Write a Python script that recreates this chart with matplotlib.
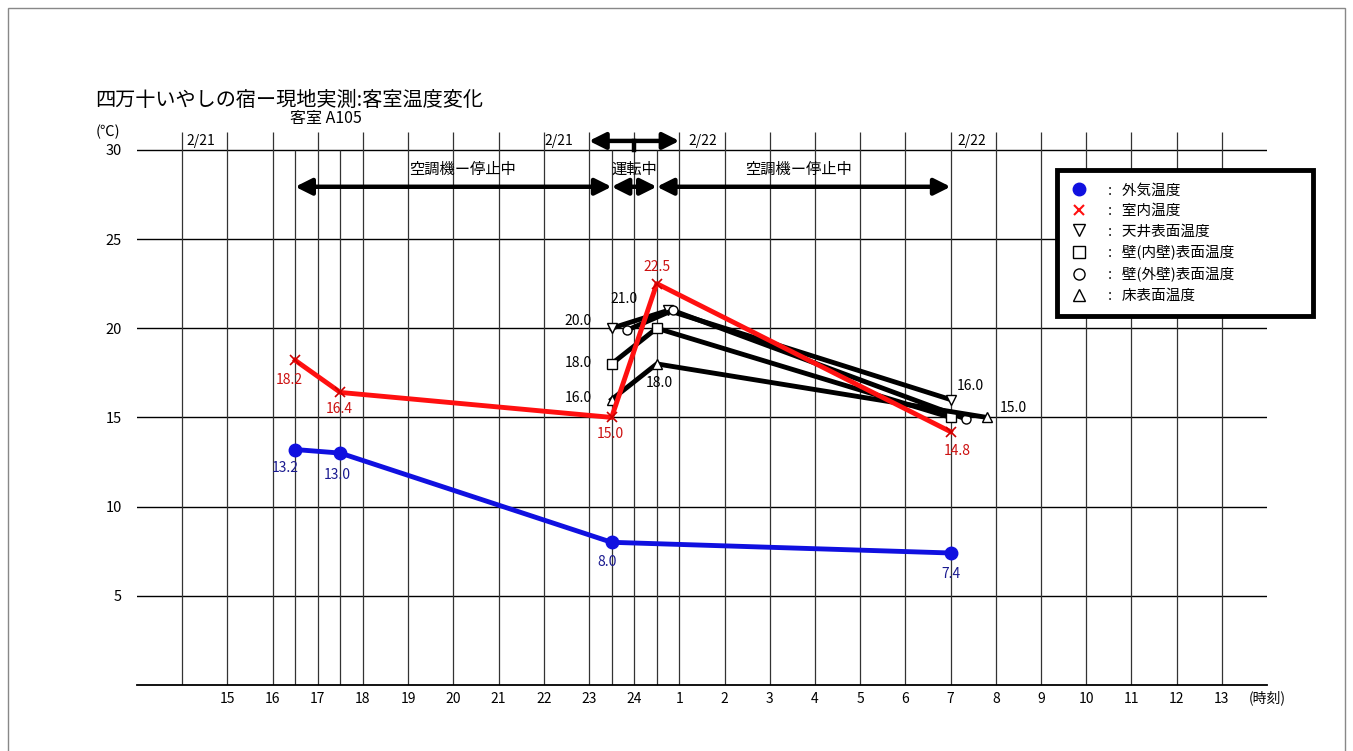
import matplotlib
matplotlib.use('Agg')
import matplotlib.pyplot as plt
from matplotlib.lines import Line2D
from matplotlib.patches import Rectangle

plt.rcParams['font.family'] = ['Noto Sans CJK JP', 'DejaVu Sans']

# time axis: 2/21 14:00 = 14, 2/22 0:00 = 24, 2/22 13:00 = 37
hour_ticks = [15, 16, 17, 18, 19, 20, 21, 22, 23, 24, 25, 26, 27, 28,
              29, 30, 31, 32, 33, 34, 35, 36, 37]
hour_labels = ["15", "16", "17", "18", "19", "20", "21", "22", "23", "24",
               "1", "2", "3", "4", "5", "6", "7", "8", "9", "10", "11",
               "12", "13"]
hour_lines = [14, 15, 16, 17, 18, 19, 20, 21, 22, 23, 24, 25, 26, 27, 28,
              29, 30, 31, 32, 33, 34, 35, 36, 37]
meas_lines = [16.5, 17.5, 23.5, 24.5]
y_ticks = [5, 10, 15, 20, 25, 30]

# outdoor air (外気温度)
out_t = [16.5, 17.5, 23.5, 31.0]
out_v = [13.2, 13.0, 8.0, 7.4]
out_lbl = ["13.2", "13.0", "8.0", "7.4"]

# room air (室内温度)
room_t = [16.5, 17.5, 23.5, 24.5, 31.0]
room_v = [18.2, 16.4, 15.0, 22.5, 14.2]
room_lbl = ["18.2", "16.4", "15.0", "22.5", "14.8"]

# surfaces
ceil_t = [23.5, 24.75, 31.0]
ceil_v = [20.0, 21.0, 16.0]
inwall_t = [23.5, 24.5, 31.0]
inwall_v = [18.0, 20.0, 15.0]
outwall_t = [23.85, 24.85, 31.35]
outwall_v = [19.9, 21.0, 14.9]
floor_t = [23.5, 24.5, 31.8]
floor_v = [16.0, 18.0, 15.0]

fig = plt.figure(figsize=(13.53, 7.51), dpi=100)
ax = fig.add_axes([137 / 1353, 1 - 685 / 751, (1267 - 137) / 1353, (685 - 132) / 751])
ax.set_xlim(13, 38)
ax.set_ylim(0, 31)

# grid
for y in y_ticks:
    ax.plot([13, 38], [y, y], color='black', lw=1.0, zorder=1)
ax.vlines(hour_lines, 0, 31, color='#333333', lw=0.9, zorder=1)
ax.vlines(meas_lines, 0, 30, color='#333333', lw=0.9, zorder=1)

for s in ['left', 'right', 'top']:
    ax.spines[s].set_visible(False)
ax.spines['bottom'].set_linewidth(1.3)

ax.set_xticks(hour_ticks)
ax.set_xticklabels(hour_labels, fontsize=10)
ax.set_yticks(y_ticks)
ax.set_yticklabels([str(v) for v in y_ticks], fontsize=10.5)
ax.tick_params(axis='x', length=0, pad=5)
ax.tick_params(axis='y', length=0, pad=11)

ax.text(-0.015, 1.0, '(℃)', transform=ax.transAxes, ha='right', va='center', fontsize=10.5)
ax.text(1.0, -0.024, '(時刻)', transform=ax.transAxes, ha='center', va='center', fontsize=10)

# surface lines
surf = [(ceil_t, ceil_v, 'v'), (outwall_t, outwall_v, 'o'),
        (inwall_t, inwall_v, 's'), (floor_t, floor_v, '^')]
for t, v, m in surf:
    ax.plot(t, v, color='black', lw=3.5, marker=m, ms=6.5, mfc='white',
            mec='black', mew=1.0, zorder=3)

ax.plot(out_t, out_v, color='#1010e0', lw=3.5, marker='o', ms=9, zorder=4)
ax.plot(room_t, room_v, color='#ff1010', lw=3.5, marker='x', ms=7, mew=1.2,
        mec='#cc0000', zorder=5)

# value labels
out_off = [(-7, -13), (-2, -16), (-3, -14), (0, -15)]
for t, v, s, o in zip(out_t, out_v, out_lbl, out_off):
    ax.annotate(s, (t, v), xytext=o, textcoords='offset points', ha='center',
                va='center', fontsize=10, color='#1a1a90')
room_off = [(-4, -14), (-1, -12), (-1, -12), (0, 12), (5, -14)]
for t, v, s, o in zip(room_t, room_v, room_lbl, room_off):
    ax.annotate(s, (t, v), xytext=o, textcoords='offset points', ha='center',
                va='center', fontsize=10, color='#cc1010')
black_lbl = [(ceil_t[0], ceil_v[0], (-24, 5)), (inwall_t[0], inwall_v[0], (-24, 1)),
             (floor_t[0], floor_v[0], (-24, 1)), (ceil_t[1], ceil_v[1], (-32, 8)),
             (floor_t[1], floor_v[1], (2, -14)), (ceil_t[2], ceil_v[2], (14, 10)),
             (floor_t[2], floor_v[2], (19, 7))]
for t, v, o in black_lbl:
    ax.annotate(f"{v:.1f}", (t, v), xytext=o, textcoords='offset points',
                ha='center', va='center', fontsize=10, color='black')

# operation arrows
arr = dict(arrowstyle='<|-|>,head_length=0.7,head_width=0.35', lw=3.2,
           color='black', shrinkA=0, shrinkB=0, mutation_scale=14)
for a, b in [(16.5, 23.5), (23.5, 24.5), (24.5, 31.0)]:
    ax.annotate('', xy=(a, 27.93), xytext=(b, 27.93), arrowprops=arr)
ax.text(20.2, 28.9, '空調機ー停止中', ha='center', va='center', fontsize=11)
ax.text(24.0, 28.9, '運転中', ha='center', va='center', fontsize=11)
ax.text(27.64, 28.9, '空調機ー停止中', ha='center', va='center', fontsize=11)

# date change bracket
ax.annotate('', xy=(23, 30.5), xytext=(25, 30.5), arrowprops=arr, annotation_clip=False)
ax.plot([24, 24], [30.0, 30.5], color='black', lw=3.2, clip_on=False)
ax.text(14.1, 30.5, '2/21', ha='left', va='center', fontsize=10)
ax.text(22.34, 30.5, '2/21', ha='center', va='center', fontsize=10)
ax.text(25.52, 30.5, '2/22', ha='center', va='center', fontsize=10)
ax.text(31.47, 30.5, '2/22', ha='center', va='center', fontsize=10)

# legend
handles = [Line2D([], [], ls='none', marker='o', color='#1010e0', ms=9),
           Line2D([], [], ls='none', marker='x', color='#ff1010', ms=7, mew=1.5),
           Line2D([], [], ls='none', marker='v', mfc='white', mec='black', ms=8),
           Line2D([], [], ls='none', marker='s', mfc='white', mec='black', ms=8),
           Line2D([], [], ls='none', marker='o', mfc='white', mec='black', ms=8),
           Line2D([], [], ls='none', marker='^', mfc='white', mec='black', ms=8)]
labels = [':   外気温度', ':   室内温度', ':   天井表面温度', ':   壁(内壁)表面温度',
          ':   壁(外壁)表面温度', ':   床表面温度']
leg = fig.legend(handles, labels, loc='upper left',
                 bbox_to_anchor=(1050 / 1353, 1 - 316 / 751, 270 / 1353, 153 / 751),
                 mode='expand', fancybox=False, edgecolor='black', framealpha=1,
                 fontsize=10.5, handlelength=1.2, handletextpad=1.4,
                 labelspacing=0.45, borderpad=0.9)
leg.get_frame().set_linewidth(3.5)

# titles
fig.text(95 / 1353, 1 - 100 / 751, '四万十いやしの宿ー現地実測:客室温度変化',
         ha='left', va='center', fontsize=14.5)
fig.text(290 / 1353, 1 - 118 / 751, '客室 A105', ha='left', va='center', fontsize=11.5)

fig.add_artist(Rectangle((8 / 1353, -0.01), 1337 / 1353, 1 - 8 / 751 + 0.01,
                         transform=fig.transFigure, fill=False,
                         edgecolor='#888888', lw=1))

fig.savefig('out.png', dpi=100)
